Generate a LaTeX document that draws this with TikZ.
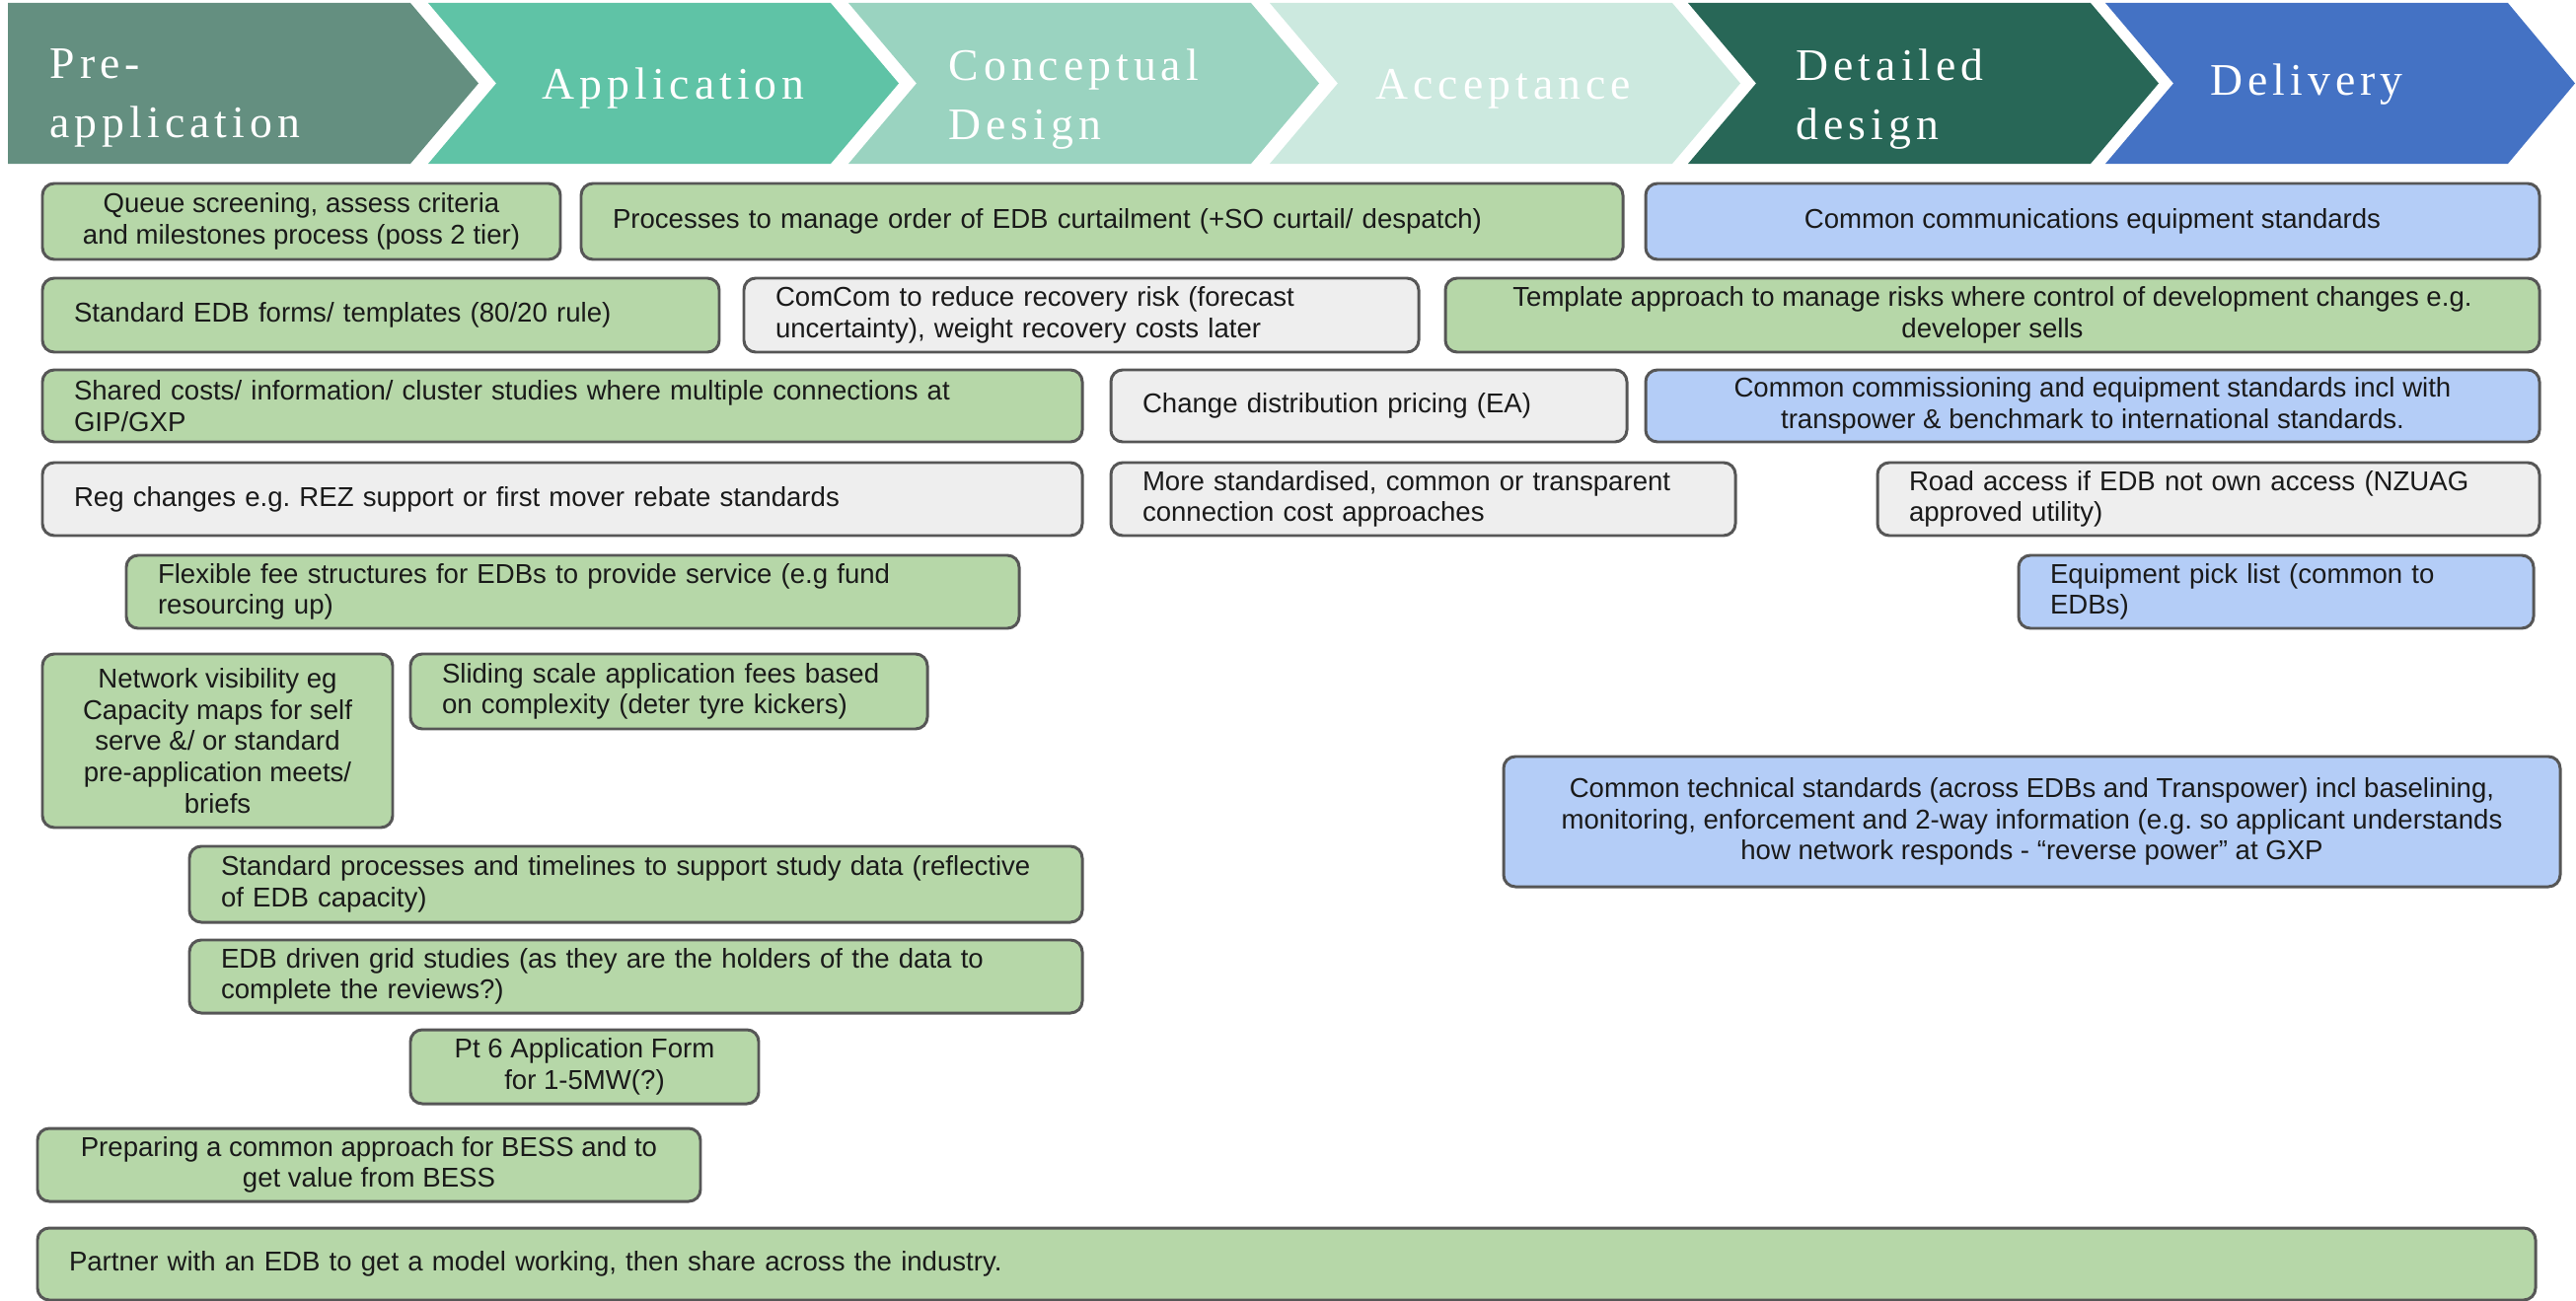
\documentclass[tikz,border=0pt]{standalone}
\usepackage{fontspec}
\setmainfont{Liberation Sans}
\newfontfamily\hdrfont{Liberation Serif}[LetterSpace=11]
\definecolor{chA}{HTML}{648F80}
\definecolor{chB}{HTML}{5FC3A6}
\definecolor{chC}{HTML}{9AD3C0}
\definecolor{chD}{HTML}{CCE9DF}
\definecolor{chE}{HTML}{286757}
\definecolor{chF}{HTML}{4472C4}
\definecolor{bxgreen}{HTML}{B6D7A8}
\definecolor{bxgray}{HTML}{EEEEEE}
\definecolor{bxblue}{HTML}{B4CDF7}
\definecolor{bordergray}{HTML}{565656}
\definecolor{txt}{HTML}{1A1A1A}
\frenchspacing
\begin{document}
\begin{tikzpicture}[
  box/.style={draw=bordergray, line width=0.85pt, rounded corners=0.12cm,
    inner xsep=0.32cm, inner ysep=0pt, text=txt,
    font=\fontsize{7.85}{9}\selectfont, align=center, anchor=center},
  boxL/.style={box, align=left, text width=#1},
  grn/.style={fill=bxgreen},
  gry/.style={fill=bxgray},
  blu/.style={fill=bxblue},
  hdr/.style={text=white, font=\hdrfont\fontsize{13}{17}\selectfont,
    inner sep=0pt, align=left},
]
\useasboundingbox (0,0) rectangle (26.11,-13.19);

% ---------- header chevrons ----------
\fill[chA] (0.08,-0.03) -- (4.16,-0.03) -- (4.85,-0.845) -- (4.16,-1.66) -- (0.08,-1.66) -- cycle;
\fill[chB] (4.34,-0.03) -- (8.42,-0.03) -- (9.11,-0.845) -- (8.42,-1.66) -- (4.34,-1.66) -- (5.03,-0.845) -- cycle;
\fill[chC] (8.60,-0.03) -- (12.68,-0.03) -- (13.37,-0.845) -- (12.68,-1.66) -- (8.60,-1.66) -- (9.29,-0.845) -- cycle;
\fill[chD] (12.87,-0.03) -- (16.95,-0.03) -- (17.64,-0.845) -- (16.95,-1.66) -- (12.87,-1.66) -- (13.56,-0.845) -- cycle;
\fill[chE] (17.11,-0.03) -- (21.19,-0.03) -- (21.88,-0.845) -- (21.19,-1.66) -- (17.11,-1.66) -- (17.80,-0.845) -- cycle;
\fill[chF] (21.34,-0.03) -- (25.42,-0.03) -- (26.10,-0.845) -- (25.42,-1.66) -- (21.34,-1.66) -- (22.03,-0.845) -- cycle;

\node[hdr, anchor=north west] (hpre) at (0.50,-0.49) {Pre-\\application};
\node[hdr, anchor=base west] (happ) at (5.49,-1.00) {Application};
\node[hdr, anchor=north west] (hcon) at (9.61,-0.49) {Conceptual\\Design};
\node[hdr, anchor=base west] (hacc) at (13.94,-1.00) {Acceptance};
\node[hdr, anchor=north west] (hdet) at (18.20,-0.49) {Detailed\\design};
\node[hdr, anchor=base west] (hdel) at (22.40,-0.97) {Delivery};

% ---------- row 1 ----------
\node[box, grn, minimum width=5.25cm, minimum height=0.77cm] (queue) at (3.055,-2.245)
  {Queue screening, assess criteria\\and milestones process (poss 2 tier)};
\node[boxL=9.92cm, grn, minimum width=10.56cm, minimum height=0.77cm] (procs) at (11.17,-2.245)
  {\mbox{Processes to manage order of EDB curtailment (+SO curtail/ despatch)}};
\node[box, blu, minimum width=9.06cm, minimum height=0.77cm] (comms) at (21.21,-2.245)
  {Common communications equipment standards};

% ---------- row 2 ----------
\node[boxL=6.22cm, grn, minimum width=6.86cm, minimum height=0.75cm] (forms) at (3.86,-3.195)
  {\mbox{Standard EDB forms/ templates (80/20 rule)}};
\node[boxL=6.20cm, gry, minimum width=6.84cm, minimum height=0.75cm] (comcom) at (10.96,-3.195)
  {\mbox{ComCom to reduce recovery risk (forecast}\\\mbox{uncertainty), weight recovery costs later}};
\node[box, grn, minimum width=11.09cm, minimum height=0.75cm] (templ) at (20.195,-3.195)
  {Template approach to manage risks where control of development changes e.g.\\developer sells};

% ---------- row 3 ----------
\node[boxL=9.90cm, grn, minimum width=10.54cm, minimum height=0.73cm] (shared) at (5.70,-4.115)
  {\mbox{Shared costs/ information/ cluster studies where multiple connections at}\\\mbox{GIP/GXP}};
\node[boxL=4.59cm, gry, minimum width=5.23cm, minimum height=0.73cm] (dist) at (13.875,-4.115)
  {\mbox{Change distribution pricing (EA)}};
\node[box, blu, minimum width=9.06cm, minimum height=0.73cm] (commiss) at (21.21,-4.115)
  {Common commissioning and equipment standards incl with\\transpower \& benchmark to international standards.};

% ---------- row 4 ----------
\node[boxL=9.90cm, gry, minimum width=10.54cm, minimum height=0.74cm] (reg) at (5.70,-5.06)
  {\mbox{Reg changes e.g. REZ support or first mover rebate standards}};
\node[boxL=5.69cm, gry, minimum width=6.33cm, minimum height=0.74cm] (morestd) at (14.425,-5.06)
  {\mbox{More standardised, common or transparent}\\\mbox{connection cost approaches}};
\node[boxL=6.07cm, gry, minimum width=6.71cm, minimum height=0.74cm] (road) at (22.385,-5.06)
  {\mbox{Road access if EDB not own access (NZUAG}\\\mbox{approved utility)}};

% ---------- row 5 ----------
\node[boxL=8.41cm, grn, minimum width=9.05cm, minimum height=0.74cm] (flex) at (5.805,-6.00)
  {\mbox{Flexible fee structures for EDBs to provide service (e.g fund}\\\mbox{resourcing up)}};
\node[boxL=4.58cm, blu, minimum width=5.22cm, minimum height=0.74cm] (pick) at (23.07,-6.00)
  {\mbox{Equipment pick list (common to}\\\mbox{EDBs)}};

% ---------- row 6 ----------
\node[box, grn, minimum width=3.55cm, minimum height=1.76cm, inner xsep=0.1cm] (netvis) at (2.205,-7.51)
  {Network visibility eg\\Capacity maps for self\\serve \&/ or standard\\pre-application meets/\\briefs};
\node[boxL=4.60cm, grn, minimum width=5.24cm, minimum height=0.76cm] (sliding) at (6.78,-7.01)
  {\mbox{Sliding scale application fees based}\\\mbox{on complexity (deter tyre kickers)}};
\node[box, blu, minimum width=10.71cm, minimum height=1.32cm] (technical) at (20.595,-8.33)
  {Common technical standards (across EDBs and Transpower) incl baselining,\\monitoring, enforcement and 2-way information (e.g. so applicant understands\\how network responds - “reverse power” at GXP};

% ---------- lower rows ----------
\node[boxL=8.41cm, grn, minimum width=9.05cm, minimum height=0.77cm] (stdproc) at (6.445,-8.965)
  {\mbox{Standard processes and timelines to support study data (reflective}\\\mbox{of EDB capacity)}};
\node[boxL=8.41cm, grn, minimum width=9.05cm, minimum height=0.74cm] (edbgrid) at (6.445,-9.90)
  {\mbox{EDB driven grid studies (as they are the holders of the data to}\\\mbox{complete the reviews?)}};
\node[box, grn, minimum width=3.53cm, minimum height=0.75cm, inner xsep=0.1cm] (pt6) at (5.925,-10.815)
  {Pt 6 Application Form\\for 1-5MW(?)};
\node[box, grn, minimum width=6.72cm, minimum height=0.74cm] (bess) at (3.74,-11.81)
  {Preparing a common approach for BESS and to\\get value from BESS};
\node[boxL=24.68cm, grn, minimum width=25.32cm, minimum height=0.73cm] (partner) at (13.04,-12.815)
  {\mbox{Partner with an EDB to get a model working, then share across the industry.}};
\end{tikzpicture}
\end{document}
